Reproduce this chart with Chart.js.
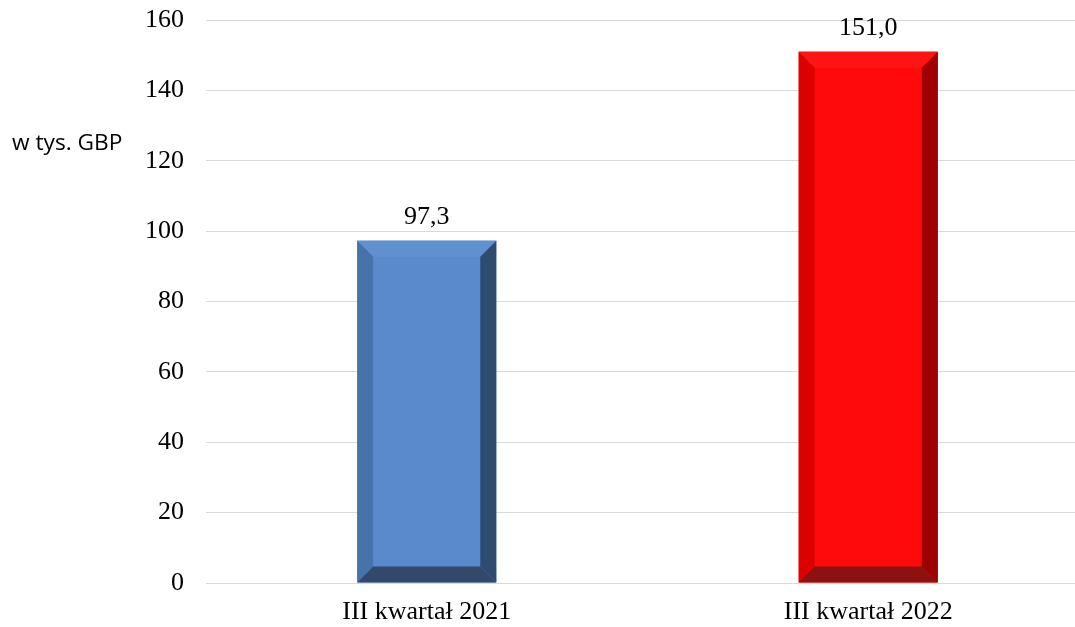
<!DOCTYPE html>
<html>
<head>
<meta charset="utf-8">
<script src="https://cdn.jsdelivr.net/npm/chart.js@4/dist/chart.umd.min.js"></script>
<style>
html,body{margin:0;padding:0;background:#fff;overflow:hidden;}
#wrap{position:relative;width:1089px;height:627px;}
</style>
</head>
<body>
<div id="wrap"><canvas id="c"></canvas></div>
<script>
const categories = ["III kwartał 2021", "III kwartał 2022"];
const values = [97.3, 151.0];
const valueLabels = ["97,3", "151,0"];
const yTicks = [0, 20, 40, 60, 80, 100, 120, 140, 160];
const unitLabel = "w tys. GBP";

const palettes = [
  {main:"#5A8ACB", top:"#5F91D1", left:"#4773AB", right:"#2F4B70", bottom:"#33496B"},
  {main:"#FF0A0A", top:"#FF1414", left:"#DC0000", right:"#9C0000", bottom:"#8C1212"}
];

const serif = "'Liberation Serif', 'Times New Roman', serif";

const bevelPlugin = {
  id: 'bevel',
  afterDatasetsDraw(chart) {
    const ctx = chart.ctx;
    const meta = chart.getDatasetMeta(0);
    meta.data.forEach((bar, i) => {
      const p = palettes[i];
      const l = bar.x - bar.width/2, r = bar.x + bar.width/2;
      const t = bar.y, b = bar.base;
      const d = 16;
      ctx.save();
      ctx.fillStyle = p.main; ctx.fillRect(l, t, r-l, b-t);
      const poly = (pts, col) => { ctx.beginPath(); ctx.moveTo(pts[0][0], pts[0][1]); for (let k=1;k<pts.length;k++) ctx.lineTo(pts[k][0], pts[k][1]); ctx.closePath(); ctx.fillStyle = col; ctx.fill(); };
      poly([[l,t],[r,t],[r-d,t+d],[l+d,t+d]], p.top);
      poly([[l,t],[l+d,t+d],[l+d,b-d],[l,b]], p.left);
      poly([[r,t],[r,b],[r-d,b-d],[r-d,t+d]], p.right);
      poly([[l,b],[l+d,b-d],[r-d,b-d],[r,b]], p.bottom);
      ctx.fillStyle = "#000";
      ctx.font = "26px " + serif;
      ctx.textAlign = "center";
      ctx.textBaseline = "alphabetic";
      ctx.fillText(valueLabels[i], bar.x, t - 17);
      ctx.restore();
    });
    ctx.save();
    ctx.fillStyle = "#000";
    ctx.font = "22.7px 'Open Sans', 'Noto Sans', sans-serif";
    ctx.textAlign = "left";
    ctx.textBaseline = "alphabetic";
    ctx.fillText(unitLabel, 12, 150);
    ctx.restore();
  }
};

new Chart(document.getElementById('c'), {
  type: 'bar',
  data: {
    labels: categories,
    datasets: [{
      data: values,
      backgroundColor: 'rgba(0,0,0,0)',
      borderWidth: 0,
      barPercentage: 0.63,
      categoryPercentage: 0.5
    }]
  },
  options: {
    responsive: true,
    maintainAspectRatio: false,
    animation: false,
    events: [],
    layout: { padding: { top: 20, left: 0, right: 0, bottom: 0 } },
    plugins: { legend: { display: false }, tooltip: { enabled: false } },
    scales: {
      x: {
        grid: { display: false, drawTicks: false },
        border: { display: false },
        ticks: { color: "#000", font: { family: serif, size: 26 }, padding: 14 },
        afterFit(scale) { scale.height = 44; scale.paddingLeft = 0; scale.paddingRight = 0; }
      },
      y: {
        min: 0, max: 160,
        afterBuildTicks(scale) { scale.ticks = yTicks.map(v => ({value: v})); },
        grid: { color: "#d9d9d9", lineWidth: 1, drawTicks: false },
        border: { display: false },
        ticks: { color: "#000", font: { family: serif, size: 26 }, padding: 22 },
        afterFit(scale) { scale.width = 206; scale.paddingTop = 0; scale.paddingBottom = 0; }
      }
    }
  },
  plugins: [bevelPlugin]
});
</script>
</body>
</html>
